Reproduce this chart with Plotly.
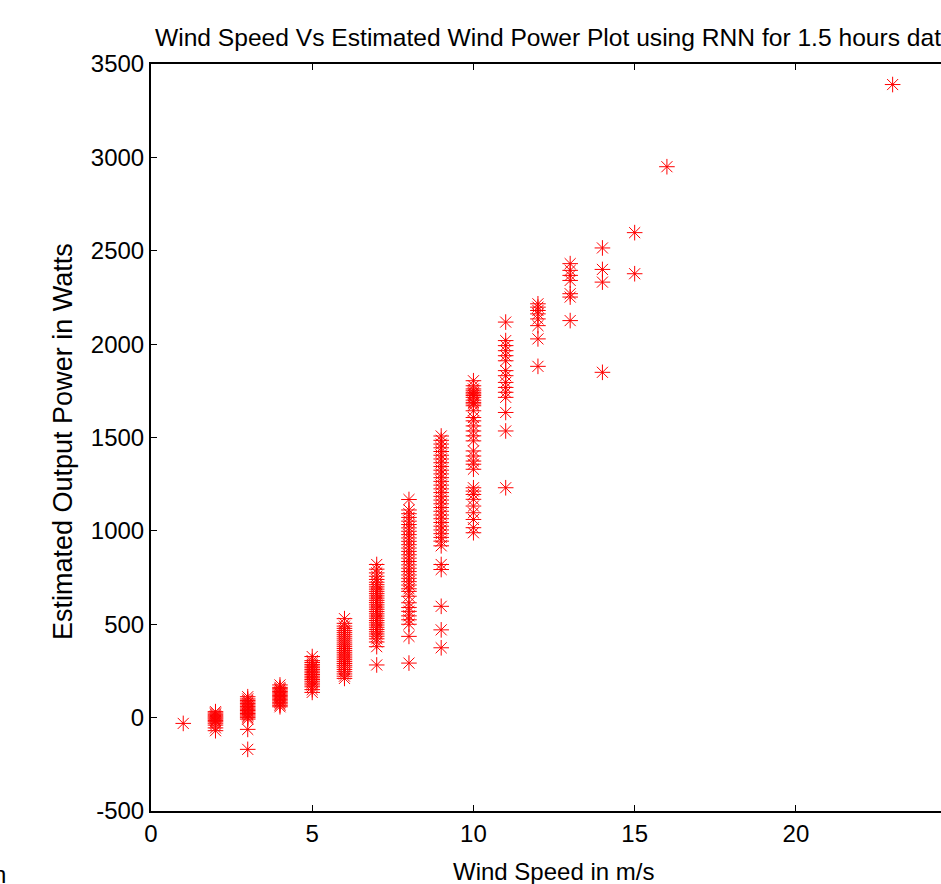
import plotly.graph_objects as go

# Wind speed (m/s) -> estimated power (W) values
power_1ms = [-31]
power_2ms = [32, 25, 18, 10, 4, -2, -8, -15, -22, -30, -40, -55, -70]
power_3ms = [112, 100, 92, 84, 76, 68, 60, 52, 45, 38, 30, 22, 15, 8, 0, -8, -63, -170]
power_4ms = [175, 162, 155, 148, 140, 133, 126, 119, 112, 105, 98, 90, 82, 74, 66, 58]
power_5ms = [327, 305, 295, 285, 276, 267, 258, 249, 240, 231, 222, 213, 204, 195,
             185, 175, 165, 150, 135]
power_6ms = [530, 505, 490, 478, 466, 455, 444, 433, 422, 411, 400, 390, 380, 370,
             360, 350, 340, 330, 320, 310, 300, 290, 280, 270, 258, 246, 234, 222, 210]
power_7ms = [820, 795, 775, 757, 740, 725, 712, 700, 688, 676, 664, 652, 640, 628,
             616, 604, 592, 580, 568, 556, 544, 532, 520, 508, 496, 484, 472, 460,
             448, 436, 422, 405, 380, 282]
power_8ms = [1168, 1112, 1092, 1072, 1052, 1034, 1016, 998, 980, 962, 944, 926, 908,
             890, 872, 854, 836, 818, 800, 782, 764, 746, 728, 710, 690, 676, 650,
             615, 590, 569, 545, 524, 500, 435, 292]
power_9ms = [1508, 1485, 1465, 1445, 1425, 1405, 1385, 1365, 1345, 1325, 1305, 1285,
             1265, 1245, 1225, 1205, 1185, 1165, 1145, 1125, 1105, 1085, 1065, 1045,
             1025, 1005, 985, 965, 945, 920, 820, 793, 596, 470, 374]
power_10ms = [1804, 1777, 1760, 1750, 1740, 1733, 1725, 1715, 1700, 1688, 1680, 1670,
              1643, 1607, 1589, 1562, 1535, 1509, 1482, 1428, 1401, 1374, 1357, 1330,
              1231, 1213, 1195, 1169, 1133, 1097, 1061, 1017, 990]
power_11ms = [2118, 2019, 1992, 1965, 1938, 1911, 1858, 1831, 1795, 1768, 1742, 1715,
              1634, 1535, 1231]
power_12ms = [2216, 2198, 2180, 2162, 2135, 2099, 2028, 1881]
power_13ms = [2431, 2395, 2368, 2341, 2270, 2252, 2126]
power_14ms = [2515, 2400, 2332, 1849]
power_15ms = [2597, 2377]
power_16ms = [2950]
power_23ms = [3390]

wind_speeds = [1, 2, 3, 4, 5, 6, 7, 8, 9, 10, 11, 12, 13, 14, 15, 16, 23]
power_groups = [power_1ms, power_2ms, power_3ms, power_4ms, power_5ms, power_6ms,
                power_7ms, power_8ms, power_9ms, power_10ms, power_11ms, power_12ms,
                power_13ms, power_14ms, power_15ms, power_16ms, power_23ms]

x_tick_vals = [0, 5, 10, 15, 20]
x_tick_text = ["0", "5", "10", "15", "20"]
y_tick_vals = [-500, 0, 500, 1000, 1500, 2000, 2500, 3000, 3500]
y_tick_text = ["-500", "0", "500", "1000", "1500", "2000", "2500", "3000", "3500"]

xs, ys = [], []
for ws, grp in zip(wind_speeds, power_groups):
    for p in grp:
        xs.append(ws)
        ys.append(p)

W, H = 941, 884
ML, MR, MT, MB = 151, 0, 64, 73
PW, PH = W - ML - MR, H - MT - MB

def px_x(p):
    return (p - ML) / PW

def px_y(q):
    return (H - MB - q) / PH

FONT = "Liberation Sans, Arial, Helvetica, sans-serif"

fig = go.Figure()
fig.add_trace(go.Scatter(
    x=xs, y=ys, mode="markers",
    marker=dict(symbol="asterisk-open", size=13, color="red",
                line=dict(color="red", width=1)),
    showlegend=False, hoverinfo="x+y",
))

fig.update_layout(
    width=W, height=H,
    margin=dict(l=ML, r=MR, t=MT, b=MB, pad=0),
    paper_bgcolor="white", plot_bgcolor="white",
    font=dict(family=FONT, color="black", size=23),
    title=dict(
        text="Wind Speed Vs Estimated Wind Power Plot using RNN for 1.5 hours data",
        x=px_x(155), xref="paper", xanchor="left",
        y=1 - 37 / H, yref="container", yanchor="middle",
        font=dict(family=FONT, size=24.6, color="black"),
    ),
    xaxis=dict(
        range=[0, 24.5], tickvals=x_tick_vals, ticktext=x_tick_text,
        showline=True, linecolor="black", linewidth=2, mirror="ticks",
        ticks="inside", ticklen=6, tickcolor="black", tickwidth=1,
        showgrid=False, zeroline=False,
        tickfont=dict(size=24, family=FONT, color="black"),
        ticklabelstandoff=0,
    ),
    yaxis=dict(
        range=[-500, 3500], tickvals=y_tick_vals, ticktext=y_tick_text,
        showline=True, linecolor="black", linewidth=2, mirror=False,
        ticks="inside", ticklen=6, tickcolor="black", tickwidth=1,
        showgrid=False, zeroline=False,
        tickfont=dict(size=24, family=FONT, color="black"),
        ticklabelstandoff=0,
    ),
)

fig.add_annotation(
    text="Wind Speed in m/s", xref="paper", yref="paper",
    x=px_x(553), y=px_y(871), xanchor="center", yanchor="middle",
    showarrow=False, font=dict(family=FONT, size=24, color="black"),
)
fig.add_annotation(
    text="Estimated Output Power in Watts", xref="paper", yref="paper",
    x=px_x(63), y=px_y(442), xanchor="center", yanchor="middle",
    textangle=-90, showarrow=False, font=dict(family=FONT, size=27, color="black"),
)
fig.add_annotation(
    text="n", xref="paper", yref="paper",
    x=px_x(-9), y=px_y(874), xanchor="left", yanchor="middle",
    showarrow=False, font=dict(family=FONT, size=24, color="black"),
)

fig.write_html(
    "out.html",
    config={"displayModeBar": False},
    post_script="document.body.style.margin='0';document.body.style.overflow='hidden';",
)
